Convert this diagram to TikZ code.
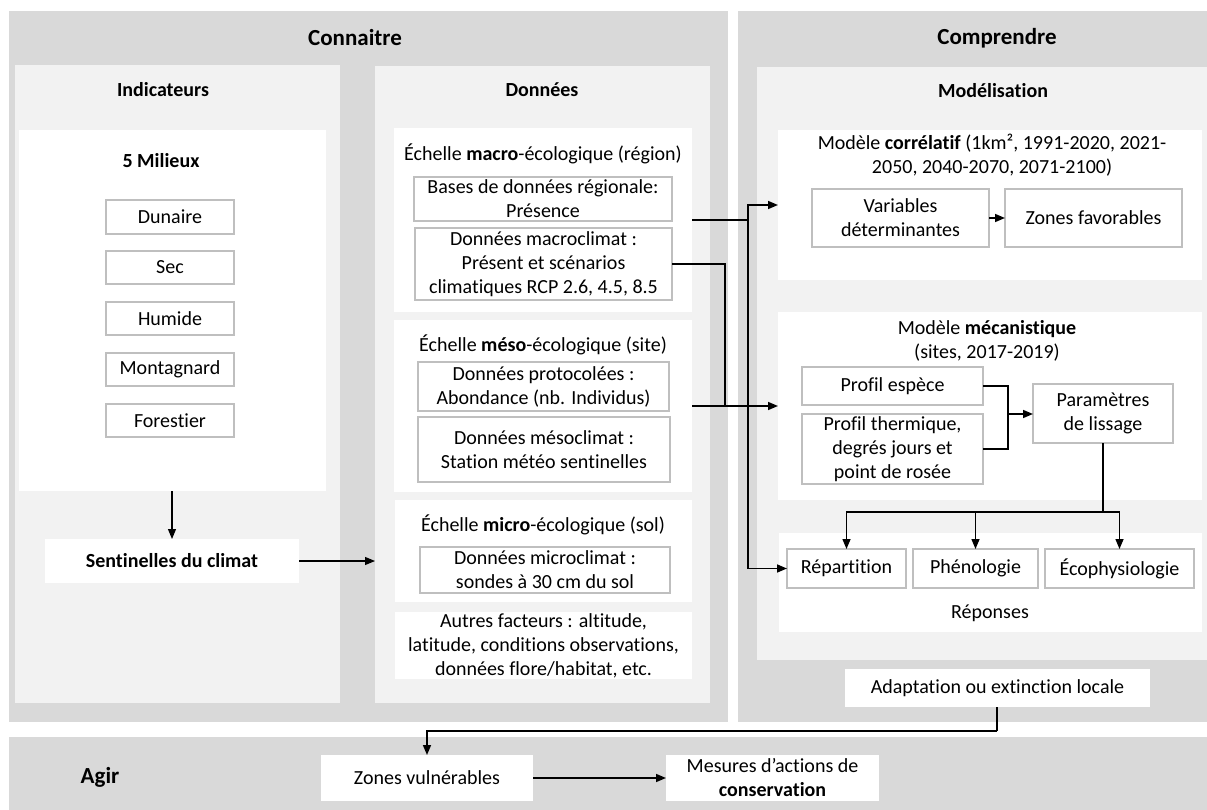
\documentclass[tikz,border=0pt]{standalone}
\usepackage{fontspec}
\setmainfont{Carlito}[Ligatures=NoCommon]
\usetikzlibrary{arrows.meta}
\definecolor{gdark}{HTML}{D9D9D9}
\definecolor{glight}{HTML}{F2F2F2}
\definecolor{bord}{HTML}{BFBFBF}
\tikzset{
 every node/.style={font=\fontsize{20}{24}\selectfont},
 area/.style={fill=gdark, draw=none},
 panel/.style={fill=glight, draw=none},
 wbox/.style={fill=white, draw=none},
 lbox/.style={fill=white, draw=bord, line width=1.2pt},
 conn/.style={draw=black, line width=1.5pt, -{Triangle[length=10pt,width=8pt]}},
 thinconn/.style={draw=black, line width=1.1pt, -{Triangle[length=10pt,width=8pt]}},
 plain/.style={draw=black, line width=1.5pt},
 ttl/.style={font=\fontsize{23}{27}\selectfont\bfseries},
 hd/.style={font=\fontsize{20}{24}\selectfont\bfseries},
}
\newcommand{\bx}[7]{\node[#1,anchor=north west,inner sep=0pt,outer sep=0pt,minimum width={#5-#3},minimum height={#6-#4},align=center] (#2) at (#3,#4) {#7};}
\begin{document}
\begin{tikzpicture}[x=1pt,y=-1pt]
\useasboundingbox (0,0) rectangle (1207,810);
% outer areas
\bx{area}{connaitre}{9}{11}{728}{722}{}
\bx{area}{comprendre}{738}{11}{1207}{722}{}
\bx{area}{agir}{9}{737}{1207}{810}{}
\node[ttl] (tconn) at (355,38) {Connaitre};
\node[ttl] (tcomp) at (997,38) {Comprendre};
\node[ttl] (tagir) at (100,777) {Agir};
% Indicateurs
\bx{panel}{indic}{15}{65}{340}{703}{}
\node[hd] (tindic) at (163,90) {Indicateurs};
\bx{wbox}{milieux}{19}{130}{326}{491}{}
\node[hd] (tmil) at (161,161) {5 Milieux};
\bx{lbox}{dun}{106}{200}{234}{234}{Dunaire}
\bx{lbox}{sec}{106}{251}{234}{284}{Sec}
\bx{lbox}{hum}{106}{302}{234}{335}{Humide}
\bx{lbox}{mon}{106}{353}{234}{386}{Montagnard}
\bx{lbox}{for}{106}{404}{234}{437}{Forestier}
\bx{wbox}{sent}{45}{539}{299}{583}{\bfseries Sentinelles du climat}
% Donnees
\bx{panel}{donnees}{375}{66}{710}{703}{}
\node[hd] (tdon) at (542,90) {Données};
\bx{wbox}{macro}{394}{128}{692}{312}{}
\node (tmacro) at (543,154) {Échelle \textbf{macro}-écologique (région)};
\bx{lbox}{bases}{414}{177}{672}{221}{Bases de données régionale:\\Présence}
\bx{lbox}{macroclim}{415}{228}{672}{300}{Données macroclimat :\\Présent et scénarios\\climatiques RCP 2.6, 4.5, 8.5}
\bx{wbox}{meso}{394}{320}{692}{492}{}
\node (tmeso) at (543,345) {Échelle \textbf{méso}-écologique (site)};
\bx{lbox}{proto}{418}{362}{669}{411}{Données protocolées :\\Abondance (nb. Individus)}
\bx{lbox}{mesoclim}{418}{417}{670}{482}{Données mésoclimat :\\Station météo sentinelles}
\bx{wbox}{micro}{395}{500}{692}{602}{}
\node (tmicro) at (543,525) {Échelle \textbf{micro}-écologique (sol)};
\bx{lbox}{microclim}{420}{547}{670}{593}{Données microclimat :\\sondes à 30 cm du sol}
\bx{wbox}{autres}{395}{612}{692}{679}{Autres facteurs : altitude,\\latitude, conditions observations,\\données flore/habitat, etc.}
% Modelisation
\bx{panel}{model}{757}{67}{1207}{660}{}
\node[hd] (tmodel) at (993,91) {Modélisation};
\bx{wbox}{correl}{778}{130}{1202}{280}{}
\node[align=center] (tcorrel) at (992,155) {Modèle \textbf{corrélatif} (1km², 1991-2020, 2021-\\2050, 2040-2070, 2071-2100)};
\bx{lbox}{var}{812}{189}{989}{247}{Variables\\déterminantes}
\bx{lbox}{zf}{1005}{189}{1182}{247}{Zones favorables}
\bx{wbox}{meca}{778}{312}{1202}{500}{}
\node[align=center] (tmeca) at (987,341) {Modèle \textbf{mécanistique}\\(sites, 2017-2019)};
\bx{lbox}{profesp}{802}{367}{983}{405}{Profil espèce}
\bx{lbox}{profth}{802}{414}{983}{484}{Profil thermique,\\degrés jours et\\point de rosée}
\bx{lbox}{param}{1033}{384}{1173}{443}{Paramètres\\de lissage}
\bx{wbox}{repon}{779}{533}{1202}{632}{}
\bx{lbox}{repart}{787}{549}{906}{588}{Répartition}
\bx{lbox}{pheno}{913}{549}{1038}{588}{Phénologie}
\bx{lbox}{eco}{1045}{549}{1194}{588}{Écophysiologie}
\node (trepon) at (990,613) {Réponses};
\bx{wbox}{adapt}{845}{669}{1150}{707}{Adaptation ou extinction locale}
% Agir
\bx{wbox}{zv}{321}{755}{533}{801}{Zones vulnérables}
\bx{wbox}{mes}{666}{755}{879}{801}{Mesures d’actions de\\\textbf{conservation}}
% connectors
\draw[thinconn] (milieux.south -| sent.north) -- (sent.north);
\draw[thinconn] (sent.east) -- (donnees.west |- sent.east);
\coordinate (bA) at (692,220);
\coordinate (bJ) at (748,220);
\draw[plain] (bA) -- (bJ);
\draw[conn] (bJ) |- (correl.west);
\draw[conn] (bJ) |- (repart.west);
\coordinate (mJ) at (725,406);
\draw[plain] (macroclim.east) -| (mJ);
\coordinate (pA) at (692,406);
\draw[conn] (pA) -- (meca.west |- pA);
\draw[conn] (var.east) -- (zf.west);
\coordinate (pJ) at (1008,414);
\draw[plain] (profesp.east) -| (pJ);
\draw[plain] (profth.east) -| (pJ);
\draw[conn] (pJ) -- (param.west |- pJ);
\coordinate (rJ) at (1103,512);
\draw[plain] (param.south -| rJ) -- (rJ);
\draw[conn] (rJ) -| (repart.north);
\draw[conn] (rJ) -| (pheno.north);
\draw[conn] (rJ) -| (eco.north);
\coordinate (aJ) at (997,731);
\draw[plain] (adapt.south -| aJ) -- (aJ);
\draw[conn] (aJ) -| (zv.north);
\draw[conn] (zv.east) -- (mes.west);
\end{tikzpicture}
\end{document}
